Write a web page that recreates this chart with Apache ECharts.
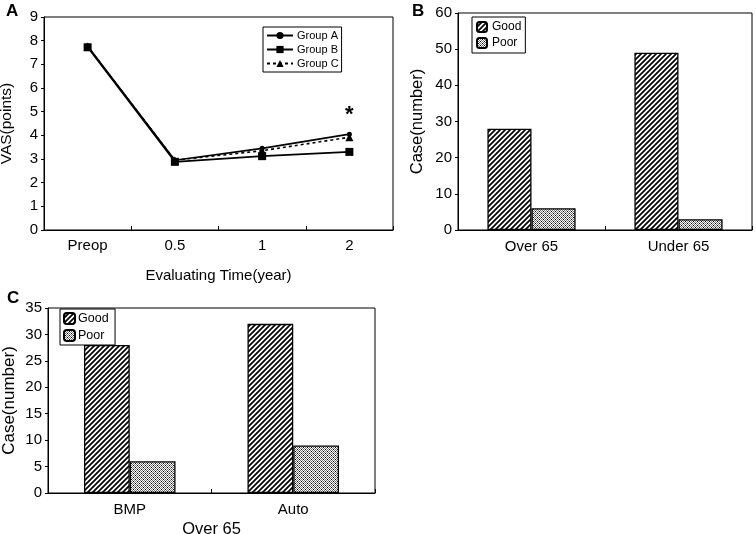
<!DOCTYPE html>
<html><head><meta charset="utf-8">
<script src="https://cdn.jsdelivr.net/npm/echarts@6/dist/echarts.min.js"></script>
<style>html,body{margin:0;padding:0;background:#fff}#c{width:756px;height:534px}</style>
</head><body><div id="c"></div>
<script>
// ---- data ----
var timeCats = ['Preop', '0.5', '1', '2'];
var groupA = [7.78, 2.95, 3.45, 4.05];
var groupB = [7.72, 2.88, 3.12, 3.3];
var groupC = [7.75, 2.95, 3.35, 3.92];
var asteriskAt = ['2', 5.05];
var ageCats = ['Over 65', 'Under 65'];
var ageGood = [28, 49];
var agePoor = [6, 3];
var methodCats = ['BMP', 'Auto'];
var methodGood = [28, 32];
var methodPoor = [6, 9];

function hatch() {
  var c = document.createElement('canvas'); c.width = 5; c.height = 5;
  var g = c.getContext('2d');
  g.fillStyle = '#fff'; g.fillRect(0, 0, 5, 5);
  g.strokeStyle = '#000'; g.lineWidth = 1.7;
  g.beginPath();
  g.moveTo(-1, 6); g.lineTo(6, -1);
  g.moveTo(-1, 1); g.lineTo(1, -1);
  g.moveTo(4, 6); g.lineTo(6, 4);
  g.stroke();
  return c;
}
function dots() {
  var c = document.createElement('canvas'); c.width = 4; c.height = 4;
  var g = c.getContext('2d');
  g.fillStyle = '#fff'; g.fillRect(0, 0, 4, 4);
  g.fillStyle = '#777';
  g.fillRect(0, 0, 1, 1); g.fillRect(2, 0, 1, 1);
  g.fillRect(1, 1, 1, 1); g.fillRect(3, 1, 1, 1);
  g.fillRect(0, 2, 1, 1); g.fillRect(2, 2, 1, 1);
  g.fillRect(1, 3, 1, 1); g.fillRect(3, 3, 1, 1);
  g.fillStyle = '#000';
  g.fillRect(1, 1, 1, 1); g.fillRect(3, 3, 1, 1);
  return c;
}
var goodFill = { image: hatch(), repeat: 'repeat' };
var poorFill = { image: dots(), repeat: 'repeat' };

var FONT = 'Liberation Sans, Arial, sans-serif';
var axisLine = { show: true, lineStyle: { color: '#000', width: 1 } };
var txt = { color: '#000', fontFamily: FONT, fontSize: 15 };
function nt(size) { return { color: '#000', fontFamily: FONT, fontSize: size }; }
var gridBase = { show: true, borderColor: '#000', borderWidth: 1, backgroundColor: 'transparent', containLabel: false, outerBoundsMode: 'none' };

var chart = echarts.init(document.getElementById('c'), null, { renderer: 'canvas' });
chart.setOption({
  animation: false,
  backgroundColor: '#fff',
  textStyle: { fontFamily: FONT, color: '#000' },
  graphic: [
    { type: 'text', left: 6, top: 3, style: { text: 'A', font: 'bold 17px ' + FONT, fill: '#000' } },
    { type: 'text', left: 412, top: 3, style: { text: 'B', font: 'bold 17px ' + FONT, fill: '#000' } },
    { type: 'text', left: 7, top: 290, style: { text: 'C', font: 'bold 17px ' + FONT, fill: '#000' } }
  ],
  grid: [
    Object.assign({ left: 44, top: 17, width: 349, height: 213 }, gridBase),
    Object.assign({ left: 458, top: 13, width: 294, height: 217 }, gridBase),
    Object.assign({ left: 48, top: 308, width: 327, height: 185 }, gridBase)
  ],
  legend: [
    { data: ['Group A', 'Group B', 'Group C'], orient: 'vertical', left: 263, top: 27, itemWidth: 26, itemHeight: 9, itemGap: 3,
      padding: [3, 3, 3, 3], borderColor: '#000', borderWidth: 1, backgroundColor: '#fff',
      textStyle: { fontSize: 11, fontFamily: FONT, color: '#000', padding: [0, 0, 0, -1] } },
    { data: ['Good', 'Poor'], orient: 'vertical', left: 472, top: 17, itemWidth: 10, itemHeight: 10, itemGap: 4,
      padding: [4, 4, 4, 4], borderColor: '#000', borderWidth: 1, backgroundColor: '#fff',
      textStyle: { fontSize: 12, fontFamily: FONT, color: '#000', padding: [0, 0, 0, 0] } },
    { data: ['Good ', 'Poor '], orient: 'vertical', left: 60, top: 309, itemWidth: 11, itemHeight: 11, itemGap: 4,
      padding: [3, 3, 3, 3], borderColor: '#000', borderWidth: 1, backgroundColor: '#fff',
      textStyle: { fontSize: 12.5, fontFamily: FONT, color: '#000', padding: [0, 0, 0, -2] } }
  ],
  xAxis: [
    { type: 'category', gridIndex: 0, data: timeCats, boundaryGap: true, axisLine: axisLine,
      axisTick: { show: true, inside: true, length: 4, lineStyle: { color: '#000' } },
      axisLabel: Object.assign({ margin: 8 }, txt),
      name: 'Evaluating Time(year)', nameLocation: 'middle', nameGap: 38, nameTextStyle: nt(15) },
    { type: 'category', gridIndex: 1, data: ageCats, axisLine: axisLine,
      axisTick: { show: true, inside: true, length: 4, lineStyle: { color: '#000' } },
      axisLabel: Object.assign({ margin: 9 }, txt) },
    { type: 'category', gridIndex: 2, data: methodCats, axisLine: axisLine,
      axisTick: { show: true, inside: true, length: 4, lineStyle: { color: '#000' } },
      axisLabel: Object.assign({ margin: 9 }, txt),
      name: 'Over 65', nameLocation: 'middle', nameGap: 28, nameTextStyle: nt(16.5) }
  ],
  yAxis: [
    { type: 'value', gridIndex: 0, min: 0, max: 9, interval: 1, axisLine: axisLine,
      axisTick: { show: true, length: 3, lineStyle: { color: '#000' } }, splitLine: { show: false },
      axisLabel: Object.assign({ margin: 6 }, txt),
      name: 'VAS(points)', nameLocation: 'middle', nameGap: 29, nameTextStyle: nt(15.5) },
    { type: 'value', gridIndex: 1, min: 0, max: 60, interval: 10, axisLine: axisLine,
      axisTick: { show: true, length: 3, lineStyle: { color: '#000' } }, splitLine: { show: false },
      axisLabel: Object.assign({ margin: 6 }, txt),
      name: 'Case(number)', nameLocation: 'middle', nameGap: 32, nameTextStyle: nt(16.5) },
    { type: 'value', gridIndex: 2, min: 0, max: 35, interval: 5, axisLine: axisLine,
      axisTick: { show: true, length: 3, lineStyle: { color: '#000' } }, splitLine: { show: false },
      axisLabel: Object.assign({ margin: 6 }, txt),
      name: 'Case(number)', nameLocation: 'middle', nameGap: 30, nameTextStyle: nt(17) }
  ],
  series: [
    { name: 'Group A', type: 'line', xAxisIndex: 0, yAxisIndex: 0, data: groupA,
      symbol: 'circle', symbolSize: 5, itemStyle: { color: '#000' }, lineStyle: { color: '#000', width: 1.6 },
      markPoint: { symbol: 'circle', symbolSize: 0, silent: true,
        label: { show: true, formatter: '*', fontSize: 22, fontWeight: 'bold', color: '#000', offset: [0, 4] },
        data: [{ coord: asteriskAt }] } },
    { name: 'Group B', type: 'line', xAxisIndex: 0, yAxisIndex: 0, data: groupB,
      symbol: 'rect', symbolSize: 8, itemStyle: { color: '#000' }, lineStyle: { color: '#000', width: 1.6 } },
    { name: 'Group C', type: 'line', xAxisIndex: 0, yAxisIndex: 0, data: groupC,
      symbol: 'triangle', symbolSize: 8, itemStyle: { color: '#000' }, lineStyle: { color: '#000', width: 1.6, type: [3, 3] } },
    { name: 'Good', type: 'bar', xAxisIndex: 1, yAxisIndex: 1, data: ageGood, barGap: '0%', barCategoryGap: '40%',
      itemStyle: { color: goodFill, borderColor: '#000', borderWidth: 1.3 } },
    { name: 'Poor', type: 'bar', xAxisIndex: 1, yAxisIndex: 1, data: agePoor, barGap: '0%', barCategoryGap: '40%',
      itemStyle: { color: poorFill, borderColor: '#000', borderWidth: 1.3 } },
    { name: 'Good ', type: 'bar', xAxisIndex: 2, yAxisIndex: 2, data: methodGood, barGap: '0%', barCategoryGap: '44%',
      itemStyle: { color: goodFill, borderColor: '#000', borderWidth: 1.3 } },
    { name: 'Poor ', type: 'bar', xAxisIndex: 2, yAxisIndex: 2, data: methodPoor, barGap: '0%', barCategoryGap: '44%',
      itemStyle: { color: poorFill, borderColor: '#000', borderWidth: 1.3 } }
  ]
});
</script></body></html>
